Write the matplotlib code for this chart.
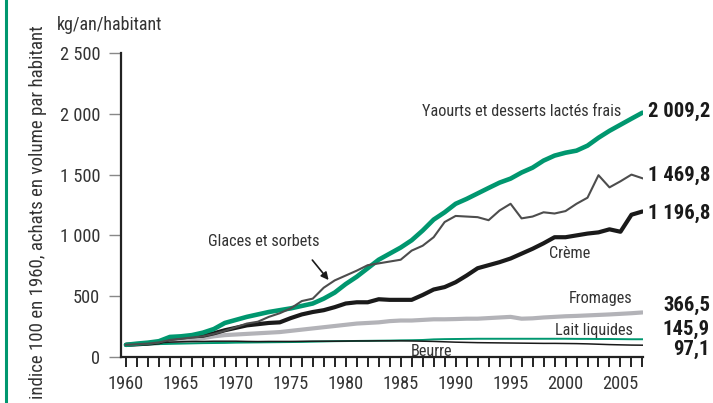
import matplotlib
matplotlib.use("Agg")
import matplotlib.pyplot as plt
from matplotlib import font_manager as fm

entries = fm.fontManager.ttflist
names = {f.name for f in entries}
STRETCH = "normal"
FAM = None
for cand in ["Liberation Sans Narrow", "Roboto Condensed", "Open Sans Condensed",
             "DejaVu Sans Condensed", "Noto Sans Condensed"]:
    if cand in names:
        FAM = cand
        break
if FAM is None:
    if any(f.name == "DejaVu Sans" and f.stretch in ("condensed", 300, "semi-condensed")
           for f in entries):
        FAM = "DejaVu Sans"
        STRETCH = "condensed"
    elif "Roboto" in names:
        FAM = "Roboto"
    else:
        FAM = "DejaVu Sans"
plt.rcParams["font.family"] = [FAM, "DejaVu Sans"]
plt.rcParams["font.stretch"] = STRETCH

years = list(range(1960, 2008))

yaourts = [100, 110, 118, 130, 165, 170, 180, 200, 230, 280, 305, 330, 350, 370, 385,
           400, 420, 440, 480, 530, 600, 660, 730, 800, 850, 900, 960, 1040, 1130, 1190,
           1260, 1300, 1345, 1390, 1434, 1467, 1517, 1557, 1615, 1656, 1680, 1697, 1738,
           1803, 1860, 1910, 1960, 2009.2]

glaces = [100, 105, 110, 120, 140, 150, 160, 170, 190, 215, 245, 275, 290, 330, 360,
          400, 460, 480, 570, 630, 670, 710, 755, 770, 785, 800, 875, 915, 985, 1110,
          1160, 1155, 1150, 1125, 1205, 1260, 1140, 1155, 1190, 1180, 1200, 1260, 1310,
          1495, 1395, 1445, 1500, 1469.8]

creme = [100, 105, 110, 120, 150, 160, 170, 175, 195, 220, 240, 260, 270, 280, 285,
         320, 350, 370, 385, 410, 440, 450, 450, 475, 470, 470, 470, 510, 555, 575,
         615, 670, 730, 755, 780, 810, 850, 890, 935, 985, 985, 1000, 1015, 1025, 1050,
         1030, 1170, 1196.8]

fromages = [100, 105, 110, 115, 125, 135, 145, 155, 170, 180, 185, 190, 195, 200, 205,
            215, 225, 235, 245, 255, 265, 275, 280, 285, 295, 300, 300, 305, 310, 310,
            312, 315, 315, 320, 325, 330, 315, 318, 325, 330, 335, 338, 342, 346, 350,
            355, 360, 366.5]

lait = [100, 102, 104, 106, 108, 110, 112, 114, 115, 116, 118, 119, 120, 121, 122,
        123, 124, 126, 128, 130, 131, 132, 133, 134, 135, 137, 138, 140, 145, 147,
        148, 149, 150, 150, 150, 150, 150, 150, 150, 150, 150, 149, 149, 148, 148,
        147, 146, 145.9]

beurre = [100, 105, 112, 118, 122, 125, 127, 128, 130, 130, 130, 128, 127, 128, 128,
          128, 129, 130, 130, 130, 131, 132, 132, 133, 133, 133, 132, 130, 128, 125,
          122, 120, 118, 117, 116, 115, 114, 113, 112, 112, 111, 110, 108, 105, 102,
          100, 98, 97.1]

yticks = [0, 500, 1000, 1500, 2000, 2500]
ytick_labels = ["0", "500", "1 000", "1 500", "2 000", "2 500"]
xtick_major = [1960, 1965, 1970, 1975, 1980, 1985, 1990, 1995, 2000, 2005]

GREEN = "#00976f"
TXT = "#333333"

fig = plt.figure(figsize=(7.13, 4.03), dpi=100)
renderer = fig.canvas.get_renderer()


def fit_size(s, target_px, weight="normal", base=10.0):
    t = fig.text(0, 0, s, fontsize=base, fontweight=weight)
    w = t.get_window_extent(renderer).width
    t.remove()
    return base * target_px / w


FS_LAB = fit_size("Yaourts et desserts lactés frais", 198)
FS_UNIT = fit_size("kg/an/habitant", 106)
FS_VAL = fit_size("2 009,2", 62, weight="bold")
FS_TICK = fit_size("1960", 36)
FS_YLAB = fit_size("indice 100 en 1960, achats en volume par habitant", 372)

ax = fig.add_axes([121/713, 1-357/403, (643-121)/713, (357-53)/403])

ax.plot(years, fromages, color="#b3b3b8", lw=3.0, zorder=2, solid_capstyle="round")
ax.plot(years, lait, color=GREEN, lw=1.4, zorder=3)
ax.plot(years, beurre, color="#1a1a1a", lw=1.1, zorder=3)
ax.plot(years, creme, color="#1a1a1a", lw=3.0, zorder=4, solid_capstyle="round")
ax.plot(years, yaourts, color=GREEN, lw=3.3, zorder=5, solid_capstyle="round")
ax.plot(years, glaces, color="#4d4d4d", lw=1.5, zorder=6)

ax.set_xlim(1959.55, 2007.05)
ax.set_ylim(0, 2500)
for s in ["top", "right"]:
    ax.spines[s].set_visible(False)
ax.spines["left"].set_color("#222222")
ax.spines["left"].set_linewidth(1.6)
ax.spines["bottom"].set_color("#222222")
ax.spines["bottom"].set_linewidth(1.6)

ax.set_yticks(yticks)
ax.set_yticklabels(ytick_labels)
ax.tick_params(axis="y", length=9, width=1.0, color="#888888", pad=6,
               labelsize=FS_TICK, labelcolor=TXT)
ax.set_xticks(years, minor=True)
ax.set_xticks(xtick_major)
ax.set_xticklabels([str(y) for y in xtick_major])
ax.tick_params(axis="x", which="both", direction="out", length=7, width=1.4,
               color="#222222", labelsize=FS_TICK, labelcolor=TXT, pad=6)

fig.text(38/713, 1-212/403, "indice 100 en 1960, achats en volume par habitant",
         fontsize=FS_YLAB, color=TXT, rotation=90, ha="center", va="center")

fig.text(57/713, 1-25/403, "kg/an/habitant", fontsize=FS_UNIT, color=TXT,
         ha="left", va="center")


def lab(x, y, s, ha="left"):
    fig.text(x/713, 1-y/403, s, fontsize=FS_LAB, color=TXT, ha=ha, va="center")


lab(621, 111, "Yaourts et desserts lactés frais", ha="right")
lab(264, 242, "Glaces et sorbets", ha="center")
lab(570, 254, "Crème", ha="center")
lab(632, 299, "Fromages", ha="right")
lab(633, 330, "Lait liquides", ha="right")
lab(432, 352, "Beurre", ha="center")


def val(y, s):
    fig.text(710/713, 1-y/403, s, fontsize=FS_VAL, fontweight="bold", color="#1a1a1a",
             ha="right", va="center")


val(111, "2 009,2")
val(175, "1 469,8")
val(213, "1 196,8")
val(305, "366,5")
val(329, "145,9")
val(349, "97,1")

ax.annotate("", xy=(1978.6, 615), xytext=(1976.8, 815),
            arrowprops=dict(arrowstyle="-|>", color="#1a1a1a", lw=1.2,
                            mutation_scale=11), zorder=7)

fig.add_artist(plt.Line2D([5.5/713, 5.5/713], [0, 1], color=GREEN, lw=2.2,
                          transform=fig.transFigure))

fig.savefig("out.png", dpi=100)
